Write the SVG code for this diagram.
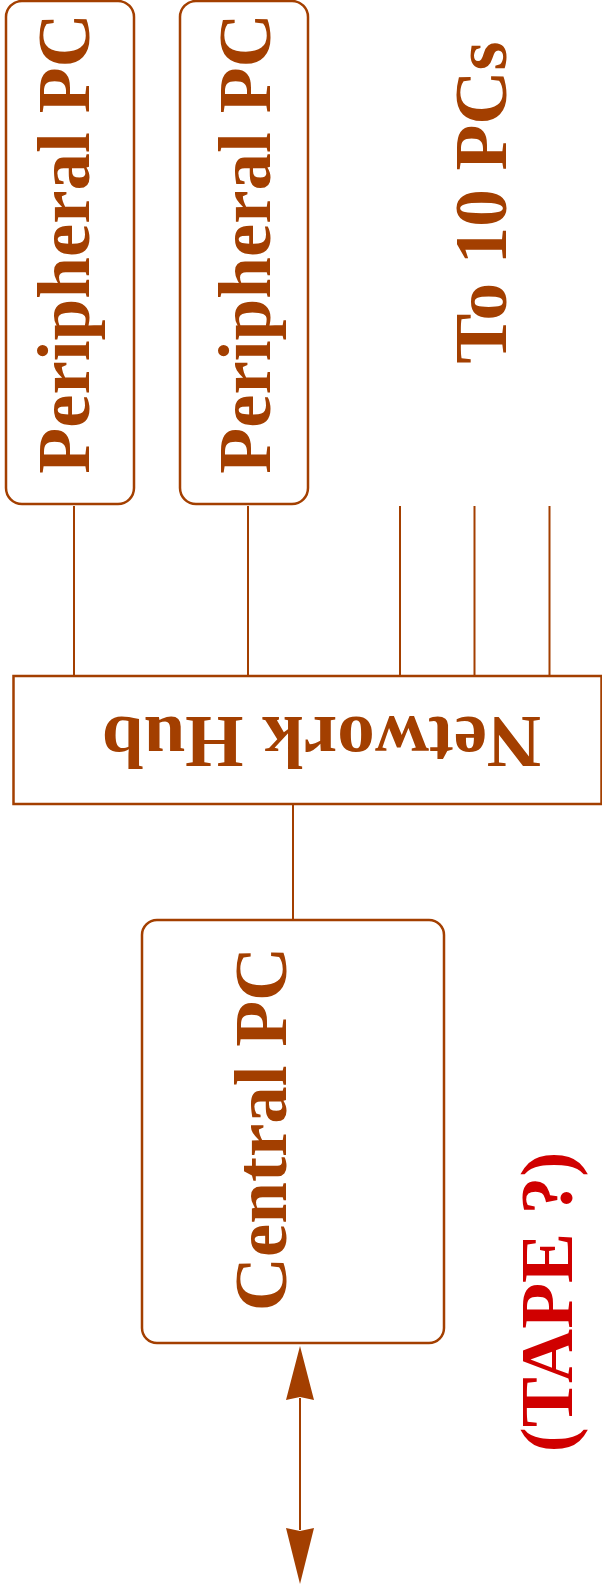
<svg xmlns="http://www.w3.org/2000/svg" width="602" height="1587" viewBox="0 0 602 1587">
<style>
.box{fill:#fff;stroke:#A33F00;stroke-width:2.5}
.lbl{font-family:"Liberation Serif","Times New Roman",serif;font-weight:bold;font-size:75px;fill:#A33F00;text-anchor:middle}
.red{fill:#D00000}
.wire{stroke:#A33F00;stroke-width:2;fill:none}
.head{fill:#A33F00;stroke:none}
</style>
<rect width="602" height="1587" fill="#fff"/>
<g id="connectors">
<line class="wire" x1="74" y1="506" x2="74" y2="676"/>
<line class="wire" x1="248" y1="506" x2="248" y2="676"/>
<line class="wire" x1="400" y1="506" x2="400" y2="676"/>
<line class="wire" x1="474.5" y1="506" x2="474.5" y2="676"/>
<line class="wire" x1="549.5" y1="506" x2="549.5" y2="676"/>
<line class="wire" x1="293" y1="804" x2="293" y2="920"/>
<line class="wire" x1="300" y1="1398" x2="300" y2="1530"/>
<polygon class="head" points="300,1346 314,1400 300,1397 286,1400"/>
<polygon class="head" points="300,1584 314,1528 300,1531 286,1528"/>
</g>
<g id="peripheral1">
<rect class="box" x="6" y="1" width="128" height="503" rx="16"/>
<text class="lbl" x="89" y="243.5" transform="rotate(-90 89 243.5)">Peripheral PC</text>
</g>
<g id="peripheral2">
<rect class="box" x="180" y="1" width="128" height="503" rx="16"/>
<text class="lbl" x="270" y="243.5" transform="rotate(-90 270 243.5)">Peripheral PC</text>
</g>
<g id="to10">
<text class="lbl" x="506" y="202.5" transform="rotate(-90 506 202.5)">To 10 PCs</text>
</g>
<g id="hub">
<rect class="box" x="13.5" y="676" width="588" height="128"/>
<text class="lbl" x="321.5" y="717" transform="rotate(180 321.5 717)">Network Hub</text>
</g>
<g id="central">
<rect class="box" x="142" y="920" width="302" height="423" rx="15"/>
<text class="lbl" x="286" y="1129" transform="rotate(-90 286 1129)">Central PC</text>
</g>
<g id="tape">
<text class="lbl red" x="572" y="1302" transform="rotate(-90 572 1302)">(TAPE ?)</text>
</g>
</svg>
